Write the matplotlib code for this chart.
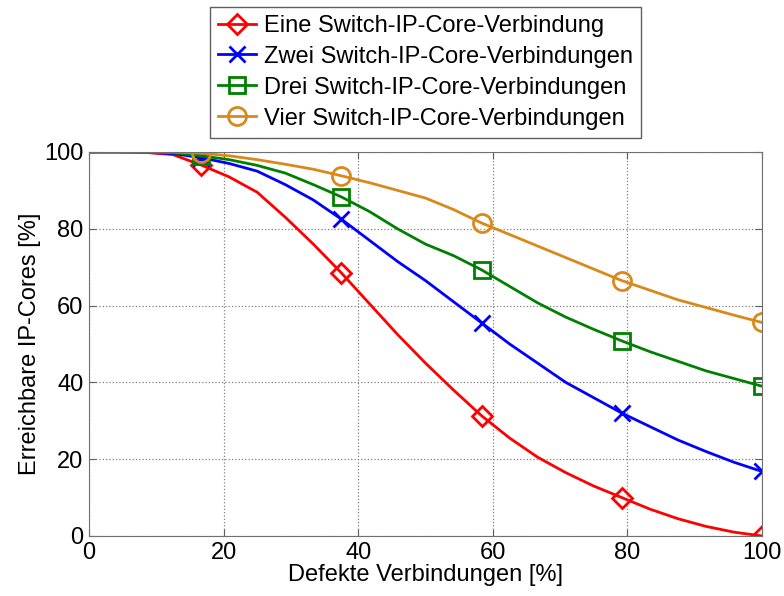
import numpy as np
import matplotlib
matplotlib.use("Agg")
import matplotlib.pyplot as plt

plt.rcParams['font.family'] = ['Liberation Sans', 'DejaVu Sans']

# x: defective links in %, 25 steps
x = np.arange(25) * 100.0 / 24

eine = [100, 100, 99.9, 99.3, 96.6, 93.5, 89.5, 83, 76, 68.5, 60.5, 52.5, 45,
        38, 31.3, 25.5, 20.5, 16.5, 13, 10, 7, 4.5, 2.5, 1, 0]
zwei = [100, 100, 99.9, 99.6, 98.5, 97, 95, 91.5, 87.5, 82.5, 77, 71.5, 66.5,
        61, 55.5, 50, 45, 40, 36, 32, 28.5, 25, 22, 19.2, 16.8]
drei = [100, 100, 100, 99.8, 99, 98, 96.5, 94.5, 91.5, 88.3, 84.5, 80, 76,
        73, 69.3, 65, 60.7, 57, 53.8, 50.8, 48, 45.5, 43, 41, 39]
vier = [100, 100, 100, 100, 99.7, 99, 98, 96.8, 95.5, 93.8, 92, 90, 88,
        85, 81.5, 78.5, 75.5, 72.5, 69.5, 66.5, 64, 61.5, 59.5, 57.5, 55.6]

labels = ["Eine Switch-IP-Core-Verbindung",
          "Zwei Switch-IP-Core-Verbindungen",
          "Drei Switch-IP-Core-Verbindungen",
          "Vier Switch-IP-Core-Verbindungen"]

fs = 17

fig = plt.figure(figsize=(7.84, 5.96), dpi=100)
ax = fig.add_axes([0.1135, 0.1007, 0.8585, 0.6443])

mk = dict(markevery=(4, 5), markerfacecolor='none', linewidth=2, markeredgewidth=2)
ax.plot(x, eine, color='#ff0000', marker='D', markersize=10, label=labels[0], **mk)
ax.plot(x, zwei, color='#0000ff', marker='x', markersize=11, label=labels[1], **mk)
ax.plot(x, drei, color='#008000', marker='s', markersize=11, label=labels[2], **mk)
ax.plot(x, vier, color='#d9891a', marker='o', markersize=13, label=labels[3], **mk)

ax.set_xlim(0, 100)
ax.set_ylim(0, 100)
ax.set_xticks([0, 20, 40, 60, 80, 100])
ax.set_yticks([0, 20, 40, 60, 80, 100])
ax.grid(True, linestyle=':', color='#808080', linewidth=0.9)
ax.tick_params(direction='in', top=True, right=True, labelsize=fs, length=5,
               color='#606060')
ax.tick_params(axis='x', pad=4)
ax.tick_params(axis='y', pad=4)
for s in ax.spines.values():
    s.set_color('#707070')
ax.set_xlabel("Defekte Verbindungen [%]", fontsize=fs, labelpad=0)
ax.set_ylabel("Erreichbare IP-Cores [%]", fontsize=fs, labelpad=2)

leg = fig.legend(loc='upper center', bbox_to_anchor=(0.543, 0.997), fontsize=fs,
                 fancybox=False, edgecolor='#606060', framealpha=1,
                 handlelength=1.6, handletextpad=0.35, labelspacing=0.38,
                 borderpad=0.35, borderaxespad=0.2)
leg.get_frame().set_linewidth(1)

fig.savefig("out.png", dpi=100)
